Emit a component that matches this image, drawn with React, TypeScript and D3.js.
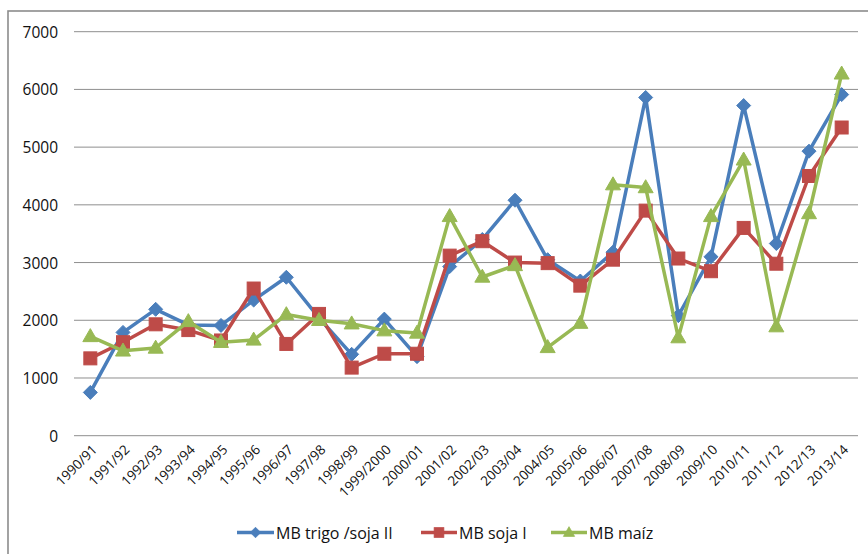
import React from "react";
import * as d3 from "d3";

const categories = [
  "1990/91", "1991/92", "1992/93", "1993/94", "1994/95", "1995/96", "1996/97", "1997/98",
  "1998/99", "1999/2000", "2000/01", "2001/02", "2002/03", "2003/04", "2004/05", "2005/06",
  "2006/07", "2007/08", "2008/09", "2009/10", "2010/11", "2011/12", "2012/13", "2013/14",
];

const trigoSojaII = [
  750, 1790, 2190, 1920, 1910, 2350, 2745, 2040, 1410, 2020, 1370, 2930,
  3400, 4080, 3050, 2680, 3180, 5860, 2080, 3100, 5720, 3330, 4930, 5910,
];
const sojaI = [
  1340, 1620, 1930, 1830, 1650, 2550, 1590, 2110, 1180, 1420, 1420, 3120,
  3370, 3000, 2990, 2600, 3050, 3900, 3070, 2850, 3600, 2980, 4500, 5340,
];
const maiz = [
  1720, 1470, 1520, 1980, 1620, 1660, 2100, 2000, 1940, 1820, 1780, 3800,
  2750, 2950, 1530, 1950, 4350, 4300, 1700, 3800, 4780, 1890, 3850, 6270,
];

const yTicks = [0, 1000, 2000, 3000, 4000, 5000, 6000, 7000];

const seriesNames = ["MB trigo /soja II", "MB soja I", "MB maíz"];
const seriesColors = ["#4A7EBB", "#BE4B48", "#98B954"];
const seriesShapes = ["diamond", "square", "triangle"];
const seriesValues = [trigoSojaII, sojaI, maiz];

const W = 868;
const H = 554;
const plot = { left: 74, right: 858, top: 31.7, bottom: 435.7 };
const FONT = "'Open Sans', 'Noto Sans', sans-serif";

function Marker({ shape, x, y, color }: { shape: string; x: number; y: number; color: string }) {
  if (shape === "diamond") {
    const r = 7;
    return (
      <path
        d={`M${x},${y - r}L${x + r},${y}L${x},${y + r}L${x - r},${y}Z`}
        fill={color}
        stroke={color}
        strokeWidth={1}
      />
    );
  }
  if (shape === "square") {
    const s = 13;
    return <rect x={x - s / 2} y={y - s / 2} width={s} height={s} fill={color} stroke={color} strokeWidth={1} />;
  }
  const h = 13;
  const w = 15;
  return (
    <path
      d={`M${x},${y - h * 0.6}L${x + w / 2},${y + h * 0.4}L${x - w / 2},${y + h * 0.4}Z`}
      fill={color}
      stroke={color}
      strokeWidth={1}
    />
  );
}

export default function App() {
  const x = d3.scaleBand<string>().domain(categories).range([plot.left, plot.right]);
  const y = d3.scaleLinear().domain([0, 7000]).range([plot.bottom, plot.top]);
  const cx = (c: string) => (x(c) as number) + x.bandwidth() / 2;

  const line = d3
    .line<number>()
    .x((_, i) => cx(categories[i]))
    .y((d) => y(d));

  const legendItems = [
    { lx: 237, tx: 276 },
    { lx: 421, tx: 459 },
    { lx: 551, tx: 589 },
  ];
  const legendY = 532.5;

  return (
    <svg
      width={W}
      height={H}
      style={{ position: "fixed", left: 0, top: 0, background: "#fff" }}
      fontFamily={FONT}
    >
      <rect x={0} y={0} width={W} height={H} fill="#fff" />
      {/* outer chart frame */}
      <rect x={8} y={11} width={W + 20} height={H + 20} fill="none" stroke="#8C8C8C" strokeWidth={1.6} />

      {/* horizontal gridlines and y labels */}
      {yTicks.map((t) => (
        <g key={t}>
          <line x1={plot.left} x2={plot.right} y1={y(t)} y2={y(t)} stroke="#8E8E8E" strokeWidth={1} />
          <text
            x={58}
            y={y(t)}
            textAnchor="end"
            dominantBaseline="central"
            fontSize={15.5}
            fill="#111"
          >
            {t}
          </text>
        </g>
      ))}

      {/* x labels */}
      {categories.map((c) => (
        <text
          key={c}
          transform={`translate(${cx(c) + 4},${447}) rotate(-45)`}
          textAnchor="end"
          dominantBaseline="central"
          fontSize={13.5}
          fill="#111"
        >
          {c}
        </text>
      ))}

      {/* series */}
      {seriesValues.map((vals, si) => (
        <g key={seriesNames[si]}>
          <path d={line(vals) || ""} fill="none" stroke={seriesColors[si]} strokeWidth={3.5} strokeLinejoin="round" />
          {vals.map((v, i) => (
            <Marker key={i} shape={seriesShapes[si]} x={cx(categories[i])} y={y(v)} color={seriesColors[si]} />
          ))}
        </g>
      ))}

      {/* legend */}
      {legendItems.map((it, si) => (
        <g key={si}>
          <line
            x1={it.lx}
            x2={it.tx - 2}
            y1={legendY}
            y2={legendY}
            stroke={seriesColors[si]}
            strokeWidth={3.5}
          />
          <g transform={`translate(${(it.lx + it.tx - 2) / 2},${legendY}) scale(0.75)`}>
            <Marker shape={seriesShapes[si]} x={0} y={0} color={seriesColors[si]} />
          </g>
          <text x={it.tx} y={legendY} dominantBaseline="central" fontSize={16} fill="#111">
            {seriesNames[si]}
          </text>
        </g>
      ))}
    </svg>
  );
}
